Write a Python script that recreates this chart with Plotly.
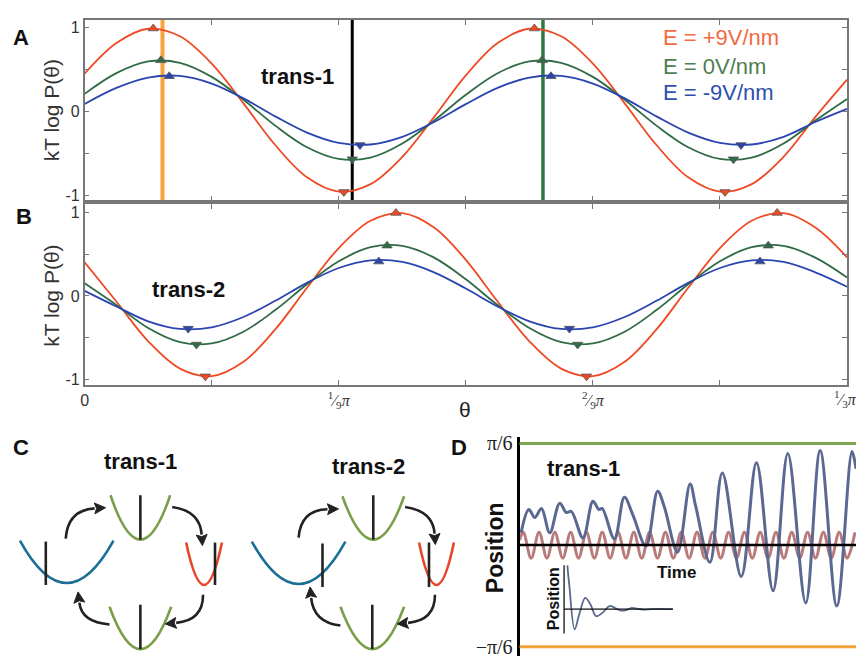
import plotly.graph_objects as go

OFF = 0
W, H = 856 - OFF, 660 - OFF
def fx(px): return (px - OFF) / W
def fy(py): return 1 - (py - OFF) / H

SANS = "Liberation Sans, Arial, sans-serif"
SERIF = "Liberation Serif, Times New Roman, serif"

# ---------------- Panel A / B data (theta in degrees, 0..60 = 0..pi/3) ----------------
theta = [0, 2.5, 5, 7.5, 10, 12.5, 15, 17.5, 20, 22.5, 25, 27.5, 30,
         32.5, 35, 37.5, 40, 42.5, 45, 47.5, 50, 52.5, 55, 57.5, 60]

a_red   = [0.45, 0.816, 0.987, 0.897, 0.571, 0.097, -0.400, -0.786, -0.957, -0.867, -0.541, -0.067, 0.43,
           0.816, 0.987, 0.897, 0.571, 0.097, -0.400, -0.786, -0.957, -0.867, -0.541, -0.067, 0.38]
a_green = [0.21, 0.457, 0.597, 0.581, 0.413, 0.139, -0.169, -0.427, -0.567, -0.551, -0.383, -0.109, 0.199,
           0.457, 0.597, 0.581, 0.413, 0.139, -0.169, -0.427, -0.567, -0.551, -0.383, -0.109, 0.15]
a_blue  = [0.09, 0.282, 0.405, 0.424, 0.333, 0.156, -0.058, -0.252, -0.375, -0.394, -0.303, -0.126, 0.088,
           0.282, 0.405, 0.424, 0.333, 0.156, -0.058, -0.252, -0.375, -0.394, -0.303, -0.126, 0.03]

b_red   = [0.40, -0.067, -0.541, -0.867, -0.957, -0.786, -0.400, 0.097, 0.571, 0.897, 0.987, 0.816, 0.430,
           -0.067, -0.541, -0.867, -0.957, -0.786, -0.400, 0.097, 0.571, 0.897, 0.987, 0.816, 0.46]
b_green = [0.15, -0.109, -0.383, -0.551, -0.567, -0.427, -0.169, 0.139, 0.413, 0.581, 0.597, 0.457, 0.199,
           -0.109, -0.383, -0.551, -0.567, -0.427, -0.169, 0.139, 0.413, 0.581, 0.597, 0.457, 0.22]
b_blue  = [0.06, -0.126, -0.303, -0.394, -0.375, -0.252, -0.058, 0.156, 0.333, 0.424, 0.405, 0.282, 0.088,
           -0.126, -0.303, -0.394, -0.375, -0.252, -0.058, 0.156, 0.333, 0.424, 0.405, 0.282, 0.11]

# extrema markers
a_max_x = {"red": [5.4, 35.4], "green": [6.0, 36.0], "blue": [6.66, 36.7]}
a_max_y = {"red": [0.99, 0.99], "green": [0.61, 0.61], "blue": [0.42, 0.42]}
a_min_x = {"red": [20.4, 50.4], "green": [21.06, 51.06], "blue": [21.67, 51.66]}
a_min_y = {"red": [-0.96, -0.96], "green": [-0.57, -0.57], "blue": [-0.40, -0.40]}
b_max_x = {"red": [24.5, 54.5], "green": [23.8, 53.8], "blue": [23.15, 53.15]}
b_max_y = {"red": [0.99, 0.99], "green": [0.60, 0.60], "blue": [0.41, 0.41]}
b_min_x = {"red": [9.5, 39.5], "green": [8.8, 38.8], "blue": [8.15, 38.15]}
b_min_y = {"red": [-0.96, -0.96], "green": [-0.58, -0.58], "blue": [-0.39, -0.39]}

vlines_A = [6.13, 21.06, 36.07]
vline_colors = ["#F9A43A", "#000000", "#2E7A45"]
vline_widths = [4, 3, 3.5]

x_major = [0, 20, 40]
x_major_text = ['<span style="font-family:Liberation Sans">0</span>',
                "<sup>1</sup>⁄<sub>9</sub><i>π</i>", "<sup>2</sup>⁄<sub>9</sub><i>π</i>"]
x_last_text = "<sup>1</sup>⁄<sub>3</sub><i>π</i>"
x_minor = [10, 30, 50, 60]
y_major = [-1, 0, 1]
y_major_text = ["-1", "0", "1"]
y_minor = [-0.5, 0.5]

legend_labels = ["E = +9V/nm", "E = 0V/nm", "E = -9V/nm"]

COL = {"red": "#EF4A25", "green": "#2F6B44", "blue": "#2A45B0"}
LEGCOL = ["#F26A43", "#4E7E52", "#2D4FAE"]

# ---------------- Panel D data (time in arbitrary units, position in units of pi/6) ----------------
d_blue_t = [1.5, 9.3, 15.3, 22, 30.3, 40.3, 47, 52, 63.7, 73.7, 79.7, 83, 95.3, 105.3, 113.7, 127,
            138.7, 145.3, 158.7, 171.3, 177, 191.2, 203.7, 222.7, 238, 254.7, 269.5, 287.5, 302,
            318.7, 334, 338]
d_blue_v = [0.12, 0.35, 0.27, 0.36, 0.12, 0.41, 0.32, 0.33, 0.07, 0.43, 0.35, 0.36, 0.06, 0.47, 0.30, -0.01,
            0.53, 0.38, -0.07, 0.60, 0.38, -0.17, 0.71, -0.31, 0.81, -0.45, 0.90, -0.57, 0.93,
            -0.60, 0.92, 0.75]

d_pink_t = [0, 3.70, 11.64, 19.57, 27.51, 35.44, 43.38, 51.31, 59.25, 67.18, 75.12, 83.05, 90.99,
            98.92, 106.86, 114.79, 122.73, 130.66, 138.60, 146.53, 154.47, 162.40, 170.34, 178.27,
            186.21, 194.14, 202.08, 210.01, 217.95, 225.88, 233.82, 241.75, 249.69, 257.62, 265.56,
            273.49, 281.43, 289.36, 297.30, 305.23, 313.17, 321.10, 329.04, 336.97]
d_pink_v = [0.05, 0.125, -0.13, 0.125, -0.13, 0.125, -0.13, 0.125, -0.13, 0.125, -0.13, 0.125, -0.13,
            0.125, -0.13, 0.125, -0.13, 0.125, -0.13, 0.125, -0.13, 0.125, -0.13, 0.125, -0.13,
            0.125, -0.13, 0.125, -0.13, 0.125, -0.13, 0.125, -0.13, 0.125, -0.13, 0.125, -0.13,
            0.125, -0.13, 0.125, -0.13, 0.125, -0.13, 0.125]

inset_t = [48, 50, 55.3, 60, 66, 71, 77, 84, 90.3, 96, 102, 107, 112, 118, 125, 132, 140, 147, 154]
inset_v = [-0.20, -0.40, -0.83, -0.68, -0.52, -0.58, -0.70, -0.66, -0.60, -0.62, -0.645, -0.64, -0.62,
           -0.625, -0.635, -0.63, -0.628, -0.63, -0.63]
inset_axis_t = 44.7
inset_axis_v = [-0.20, -0.87]
inset_base_v = -0.63
inset_base_t = [44.7, 154]

d_ticks = [1, -1]
d_ticktext = ["π/6", "−π/6"]

# ---------------- Panel C schematic (page pixel geometry) ----------------
parab_cx = [63, 137, 201, 137, 296, 371, 434.5, 370]
parab_hw = [47, 30, 18, 31, 47, 31, 17.5, 32]
parab_top = [543, 497, 545, 610, 544, 498, 545, 610]
parab_bot = [586, 542, 588, 653, 587, 542, 588, 653]
parab_col = ["#1B6E96", "#7A9E4A", "#E8452A", "#7A9E4A", "#1B6E96", "#7A9E4A", "#E8452A", "#7A9E4A"]
bar_x = [42, 137, 212, 137, 320, 371, 427, 370]
bar_top = [544, 497, 545, 608, 546, 497, 545, 608]
bar_bot = [588, 542, 588, 653, 590, 542, 590, 653]
arrows = [((62, 541), (64, 512), (97, 510)),
          ((169, 509), (197, 513), (199, 543)),
          ((200, 598), (200, 624), (167, 627)),
          ((106, 628), (78, 626), (75, 600)),
          ((296, 540), (298, 512), (331, 511)),
          ((403, 509), (431, 513), (433, 542)),
          ((433, 598), (433, 624), (400, 627)),
          ((338, 629), (311, 626), (308, 595))]

C_X0, C_X1, C_Y0, C_Y1 = 0, 458, 425, 660   # schematic canvas (page px)

fig = go.Figure()

for name, ys in [("red", a_red), ("green", a_green), ("blue", a_blue)]:
    fig.add_trace(go.Scatter(x=theta, y=ys, mode="lines", line=dict(color=COL[name], width=1.8, shape="spline"),
                             xaxis="x", yaxis="y", showlegend=False))
for name, ys in [("red", b_red), ("green", b_green), ("blue", b_blue)]:
    fig.add_trace(go.Scatter(x=theta, y=ys, mode="lines", line=dict(color=COL[name], width=1.8, shape="spline"),
                             xaxis="x2", yaxis="y2", showlegend=False))

for (mx, my, Mx, My, xa, ya) in [(a_max_x, a_max_y, a_min_x, a_min_y, "x", "y"),
                                  (b_max_x, b_max_y, b_min_x, b_min_y, "x2", "y2")]:
    for name in ["red", "green", "blue"]:
        fig.add_trace(go.Scatter(x=mx[name], y=my[name], mode="markers", xaxis=xa, yaxis=ya, showlegend=False,
                                 marker=dict(symbol="triangle-up", size=9, color=COL[name],
                                             line=dict(color="#555", width=0.8))))
        fig.add_trace(go.Scatter(x=Mx[name], y=My[name], mode="markers", xaxis=xa, yaxis=ya, showlegend=False,
                                 marker=dict(symbol="triangle-down", size=9, color=COL[name],
                                             line=dict(color="#555", width=0.8))))

fig.add_trace(go.Scatter(x=d_pink_t, y=d_pink_v, mode="lines", xaxis="x3", yaxis="y3", showlegend=False,
                         line=dict(color="#B87A7A", width=3, shape="spline")))
fig.add_trace(go.Scatter(x=d_blue_t, y=d_blue_v, mode="lines", xaxis="x3", yaxis="y3", showlegend=False,
                         line=dict(color="#5A6892", width=3, shape="spline", smoothing=1.0)))
fig.add_trace(go.Scatter(x=inset_t, y=inset_v, mode="lines", xaxis="x3", yaxis="y3", showlegend=False,
                         line=dict(color="#5A6892", width=1.8, shape="spline")))
fig.add_trace(go.Scatter(x=[inset_axis_t, inset_axis_t], y=inset_axis_v, mode="lines", xaxis="x3", yaxis="y3",
                         showlegend=False, line=dict(color="#111", width=1.3)))
fig.add_trace(go.Scatter(x=inset_base_t, y=[inset_base_v, inset_base_v], mode="lines", xaxis="x3", yaxis="y3",
                         showlegend=False, line=dict(color="#111", width=1.3)))
fig.add_trace(go.Scatter(x=[C_X0], y=[C_Y1], mode="markers", marker=dict(opacity=0), xaxis="x4", yaxis="y4",
                         showlegend=False, hoverinfo="skip"))

shapes = []
for xv, c, wv in zip(vlines_A, vline_colors, vline_widths):
    shapes.append(dict(type="line", xref="x", yref="y domain", x0=xv, x1=xv, y0=0, y1=1,
                       line=dict(color=c, width=wv), layer="below"))
shapes.append(dict(type="line", xref="x3 domain", yref="y3", x0=0, x1=1, y0=1, y1=1,
                   line=dict(color="#7FA650", width=3)))
shapes.append(dict(type="line", xref="x3 domain", yref="y3", x0=0, x1=1, y0=-1, y1=-1,
                   line=dict(color="#F2A33A", width=3)))
shapes.append(dict(type="line", xref="x3 domain", yref="y3", x0=0, x1=1, y0=0, y1=0,
                   line=dict(color="#000", width=2.5), layer="above"))

for cx, hw, yt, yb, c in zip(parab_cx, parab_hw, parab_top, parab_bot, parab_col):
    ctrl_y = 2 * yb - yt
    path = f"M {cx-hw},{yt} Q {cx},{ctrl_y} {cx+hw},{yt}"
    shapes.append(dict(type="path", xref="x4", yref="y4", path=path, line=dict(color=c, width=2.6)))
for bx, bt, bb in zip(bar_x, bar_top, bar_bot):
    shapes.append(dict(type="line", xref="x4", yref="y4", x0=bx, x1=bx, y0=bt, y1=bb,
                       line=dict(color="#222", width=2.6)))
for (s, c, e) in arrows:
    dx, dy = e[0] - c[0], e[1] - c[1]
    n = (dx * dx + dy * dy) ** 0.5
    ux, uy = dx / n, dy / n
    px_, py_ = -uy, ux
    bx_, by_ = e[0] - ux * 6, e[1] - uy * 6
    tip = (e[0] + ux * 5, e[1] + uy * 5)
    shapes.append(dict(type="path", xref="x4", yref="y4",
                       path=f"M {s[0]},{s[1]} Q {c[0]},{c[1]} {bx_},{by_}",
                       line=dict(color="#222", width=2.6)))
    tri = (f"M {tip[0]},{tip[1]} L {bx_+px_*5.5},{by_+py_*5.5} L {bx_+ux*2},{by_+uy*2} "
           f"L {bx_-px_*5.5},{by_-py_*5.5} Z")
    shapes.append(dict(type="path", xref="x4", yref="y4", path=tri, fillcolor="#222",
                       line=dict(color="#222", width=1)))

ann = []
def txt(text, px, py, size, color="#111", bold=False, angle=0, family=SANS, xanchor="center"):
    t = f"<b>{text}</b>" if bold else text
    ann.append(dict(text=t, x=fx(px), y=fy(py), xref="paper", yref="paper", showarrow=False,
                    font=dict(size=size, color=color, family=family), textangle=angle,
                    xanchor=xanchor, yanchor="middle"))

txt("A", 17, 33, 22, bold=True)
txt("B", 20, 214, 22, bold=True)
txt("C", 17, 449, 22, bold=True)
txt("D", 457, 449, 22, bold=True)
txt("kT log P(θ)", 48, 107, 21, color="#333", angle=-90)
txt("kT log P(θ)", 48, 295, 21, color="#333", angle=-90)
txt("trans-1", 295, 72, 22, bold=True)
txt("trans-2", 185, 288, 22, bold=True)
txt("θ", 463, 410, 21, color="#222")
txt(x_last_text, 845, 399, 16, color="#333", family=SERIF)
for lab, yy, c in zip(legend_labels, [33, 62, 89], LEGCOL):
    txt(lab, 660, yy, 22, color=c, xanchor="left")
txt("trans-1", 137, 463, 22, bold=True)
txt("trans-2", 366, 468, 22, bold=True)
txt("trans-1", 582, 470, 22, bold=True)
txt("Position", 493, 550, 23, bold=True, angle=-90)
txt("Time", 676, 575, 17, bold=True)
txt("Position", 552, 602, 16, bold=True, angle=-90)

frame = dict(showline=True, linecolor="#777", linewidth=1.5, mirror="ticks", ticks="inside",
             ticklen=5, tickcolor="#777", showgrid=False, zeroline=False)
minor_x = dict(tickvals=x_minor, ticks="inside", ticklen=5, tickcolor="#777", showgrid=False)
minor_y = dict(tickvals=y_minor, ticks="inside", ticklen=5, tickcolor="#777", showgrid=False)

fig.update_layout(
    width=W, height=H, margin=dict(l=0, r=0, t=0, b=0),
    paper_bgcolor="white", plot_bgcolor="rgba(0,0,0,0)", showlegend=False,
    xaxis=dict(domain=[fx(81), fx(847)], range=[0, 60], anchor="y", tickvals=x_major,
               showticklabels=False, minor=minor_x, **frame),
    yaxis=dict(domain=[fy(198), fy(15)], range=[-1.06, 1.094], anchor="x", tickvals=y_major,
               ticktext=y_major_text, tickfont=dict(size=16, family=SANS, color="#333"), minor=minor_y, **frame),
    xaxis2=dict(domain=[fx(81), fx(847)], range=[0, 60], anchor="y2", tickvals=x_major,
                ticktext=x_major_text, tickfont=dict(size=16, family=SERIF, color="#333"), minor=minor_x, **frame),
    yaxis2=dict(domain=[fy(385), fy(202)], range=[-1.06, 1.094], anchor="x2", tickvals=y_major,
                ticktext=y_major_text, tickfont=dict(size=16, family=SANS, color="#333"), minor=minor_y, **frame),
    xaxis3=dict(domain=[fx(518), 1], range=[0, 338], anchor="y3", showline=False, showgrid=False,
                zeroline=False, showticklabels=False, ticks=""),
    yaxis3=dict(domain=[0, fy(438)], range=[-1.092, 1.063], anchor="x3", showline=True, linecolor="#000",
                linewidth=3, showgrid=False, zeroline=False, tickvals=d_ticks, ticktext=d_ticktext,
                ticks="", tickfont=dict(size=20, family=SERIF, color="#222")),
    xaxis4=dict(domain=[fx(C_X0), fx(C_X1)], range=[C_X0, C_X1], anchor="y4", visible=False, fixedrange=True),
    yaxis4=dict(domain=[fy(C_Y1), fy(C_Y0)], range=[C_Y1, C_Y0], anchor="x4", visible=False, fixedrange=True),
    shapes=shapes, annotations=ann,
)

fig.write_html("out.html", config={"displayModeBar": False},
               post_script="document.body.style.margin='0';document.documentElement.style.overflow='hidden';")
